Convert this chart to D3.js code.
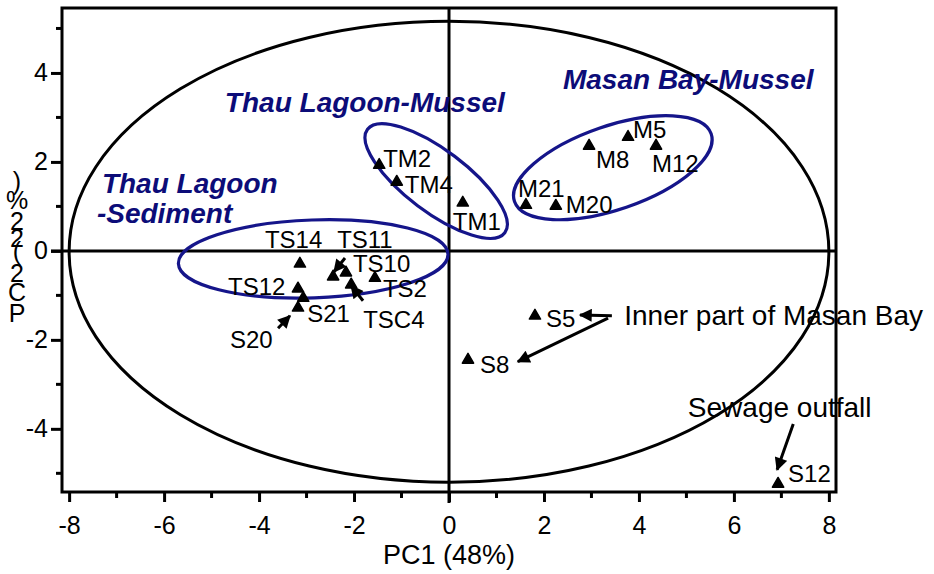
<!DOCTYPE html>
<html>
<head>
<meta charset="utf-8">
<script src="https://cdn.jsdelivr.net/npm/d3@7"></script>
<style>
  body { margin: 0; background: #fff; }
  svg { display: block; }
  text { font-family: "Liberation Sans", Arial, Helvetica, sans-serif; }
</style>
</head>
<body>
<svg id="chart" width="934" height="574"></svg>
<script>
// ---- PCA scores (PC1, PC2) per sample ----
const sampleNames = ["TM2", "TM4", "TM1", "M8", "M5", "M12", "M21", "M20",
                     "S5", "S8", "S12", "TS14", "TS12", "S21", "S20",
                     "TS11", "TS10", "TSC4", "TS2"];
const pc1Scores = [-1.47, -1.10, 0.29, 2.95, 3.77, 4.36, 1.62, 2.25,
                   1.81, 0.40, 6.93, -3.14, -3.18, -3.07, -3.18,
                   -2.44, -2.17, -2.06, -1.56];
const pc2Scores = [1.93, 1.55, 1.08, 2.36, 2.56, 2.36, 1.03, 1.01,
                   -1.46, -2.45, -5.24, -0.29, -0.85, -1.06, -1.28,
                   -0.58, -0.49, -0.76, -0.61];

const xTickValues = [-8, -6, -4, -2, 0, 2, 4, 6, 8];
const yTickValues = [-4, -2, 0, 2, 4];
const xMinorTicks = [-7, -5, -3, -1, 1, 3, 5, 7];
const yMinorTicks = [-5, -3, -1, 1, 3, 5];
const xTitle = "PC1 (48%)";
const yTitle = "PC2 (22%)";

// 95% confidence ellipse radii (PC1, PC2)
const confRadii = [8.0, 5.18];

// ---- layout ----
const W = 934, H = 574;
const frame = { left: 62, right: 836, top: 8, bottom: 492 };
const ink = "#000";
const navy = "#0c0c78";
const loopColor = "#15158a";

const x = d3.scaleLinear().domain([-8.15, 8.15]).range([frame.left, frame.right]);
const y = d3.scaleLinear().domain([-5.42, 5.46]).range([frame.bottom, frame.top]);
const kx = x(1) - x(0);

const svg = d3.select("#chart");

// label placement for each sample (pixel offset of text start / baseline)
const labelOffsets = {
  TM2: [4, 2], TM4: [8, 11], TM1: [-10, 27], M8: [7, 22], M5: [5, 1],
  M12: [-4, 26], M21: [-8, -8], M20: [10, 7], S5: [11, 11], S8: [12, 13],
  S12: [10, -2], TS14: [-35, -16], TS11: [4, -29], TS10: [7, -1],
  TS12: [-70, 6], TS2: [8, 19], S21: [4, 24], TSC4: [12, 43], S20: [-68, 40]
};

// group outlines: centre in score units, semi-axes in PC1 units, screen rotation
const groupLoops = [
  { cx: -2.86, cy: -0.18, a: 2.84, b: 0.82, rot: -2 },
  { cx: -0.27, cy: 1.57, a: 1.81, b: 0.65, rot: 37 },
  { cx: 3.45, cy: 1.87, a: 2.19, b: 0.88, rot: -19 }
];

// group titles
const groupTitles = [
  { lines: ["Thau Lagoon-Mussel"], x: -4.72, y: 3.12 },
  { lines: ["Masan Bay-Mussel"], x: 2.40, y: 3.64 },
  { lines: ["Thau Lagoon", "-Sediment"], x: -7.31, y: 1.30, dx: [0, -5] }
];

// annotation arrows [fromPC1, fromPC2, toPC1, toPC2]
const arrows = [
  [-2.19, -0.16, -2.42, -0.47],
  [-1.81, -1.12, -2.06, -0.79],
  [-3.60, -1.74, -3.35, -1.46],
  [3.43, -1.46, 2.76, -1.44],
  [3.35, -1.51, 1.45, -2.49],
  [7.25, -3.89, 6.91, -4.92]
];
const notes = [
  { text: "Inner part of Masan Bay", x: 3.69, y: -1.66 },
  { text: "Sewage outfall", x: 5.03, y: -3.73 }
];

// ---- arrow head ----
svg.append("defs").append("marker")
  .attr("id", "head")
  .attr("viewBox", "0 0 10 10")
  .attr("refX", 9).attr("refY", 5)
  .attr("markerUnits", "userSpaceOnUse")
  .attr("markerWidth", 15).attr("markerHeight", 13)
  .attr("orient", "auto")
  .append("path").attr("d", "M0,0 L10,5 L0,10 z").attr("fill", ink);

// ---- confidence ellipse ----
svg.append("ellipse")
  .attr("cx", x(0)).attr("cy", y(-0.02))
  .attr("rx", x(confRadii[0]) - x(0))
  .attr("ry", y(0) - y(confRadii[1]))
  .attr("fill", "none").attr("stroke", ink).attr("stroke-width", 3);

// ---- zero lines ----
svg.append("line")
  .attr("x1", frame.left - 11).attr("x2", frame.right)
  .attr("y1", y(0)).attr("y2", y(0))
  .attr("stroke", ink).attr("stroke-width", 3);
svg.append("line")
  .attr("x1", x(0)).attr("x2", x(0))
  .attr("y1", frame.top).attr("y2", frame.bottom + 11)
  .attr("stroke", ink).attr("stroke-width", 3);

// ---- group outlines ----
svg.append("g").selectAll("ellipse").data(groupLoops).join("ellipse")
  .attr("cx", 0).attr("cy", 0)
  .attr("rx", d => d.a * kx).attr("ry", d => d.b * kx)
  .attr("transform", d => `translate(${x(d.cx)},${y(d.cy)}) rotate(${d.rot})`)
  .attr("fill", "none").attr("stroke", loopColor).attr("stroke-width", 3.2);

// ---- axes ----
const xAxis = d3.axisBottom(x).tickValues(xTickValues).tickSize(10).tickPadding(6)
  .tickFormat(d3.format("d"));
const gx = svg.append("g").attr("transform", `translate(0,${frame.bottom})`).call(xAxis);
gx.select(".domain").remove();
gx.selectAll(".tick line").attr("stroke", ink).attr("stroke-width", 3);
gx.selectAll(".tick text").attr("font-size", 25).attr("fill", ink)
  .attr("dy", null).attr("y", 42);
gx.selectAll(".tick text").text(d => d < 0 ? "-" + Math.abs(d) : d);
svg.append("g").selectAll("line").data(xMinorTicks).join("line")
  .attr("x1", d => x(d)).attr("x2", d => x(d))
  .attr("y1", frame.bottom).attr("y2", frame.bottom + 6)
  .attr("stroke", ink).attr("stroke-width", 3);

const yAxis = d3.axisLeft(y).tickValues(yTickValues).tickSize(11).tickPadding(3);
const gy = svg.append("g").attr("transform", `translate(${frame.left},0)`).call(yAxis);
gy.select(".domain").remove();
gy.selectAll(".tick line").attr("stroke", ink).attr("stroke-width", 3);
gy.selectAll(".tick text").attr("font-size", 25).attr("fill", ink)
  .text(d => d < 0 ? "-" + Math.abs(d) : d);
svg.append("g").selectAll("line").data(yMinorTicks).join("line")
  .attr("x1", frame.left - 6).attr("x2", frame.left)
  .attr("y1", d => y(d)).attr("y2", d => y(d))
  .attr("stroke", ink).attr("stroke-width", 3);

// ---- frame ----
svg.append("rect")
  .attr("x", frame.left).attr("y", frame.top)
  .attr("width", frame.right - frame.left).attr("height", frame.bottom - frame.top)
  .attr("fill", "none").attr("stroke", ink).attr("stroke-width", 3);

// ---- axis titles ----
svg.append("text")
  .attr("x", x(0)).attr("y", 564)
  .attr("text-anchor", "middle").attr("font-size", 27).attr("fill", ink)
  .text(xTitle);

// vertical title: upright glyphs stacked from bottom to top
const yTitleG = svg.append("g");
const probe = svg.append("text").attr("font-size", 25).attr("visibility", "hidden");
let acc = 0;
const stackStep = 1.2, stackBottom = 323, stackX = 17;
Array.from(yTitle).forEach(ch => {
  probe.text(ch === " " ? "\u00a0" : ch);
  const w = probe.node().getComputedTextLength();
  if (ch !== " ") {
    yTitleG.append("text")
      .attr("x", stackX).attr("y", stackBottom - (acc + w / 2) * stackStep)
      .attr("text-anchor", "middle").attr("dominant-baseline", "central")
      .attr("font-size", 25).attr("fill", ink).text(ch);
  }
  acc += w;
});
probe.remove();

// ---- arrows ----
svg.append("g").selectAll("line").data(arrows).join("line")
  .attr("x1", d => x(d[0])).attr("y1", d => y(d[1]))
  .attr("x2", d => x(d[2])).attr("y2", d => y(d[3]))
  .attr("stroke", ink).attr("stroke-width", 3)
  .attr("marker-end", "url(#head)");

// ---- sample points ----
const samples = sampleNames.map((n, i) => ({ name: n, px: pc1Scores[i], py: pc2Scores[i] }));
svg.append("g").selectAll("path").data(samples).join("path")
  .attr("d", d3.symbol().type(d3.symbolTriangle).size(55))
  .attr("transform", d => `translate(${x(d.px)},${y(d.py)})`)
  .attr("fill", ink).attr("stroke", ink).attr("stroke-width", 1.5)
  .attr("stroke-linejoin", "round");

svg.append("g").selectAll("text").data(samples).join("text")
  .attr("x", d => x(d.px) + labelOffsets[d.name][0])
  .attr("y", d => y(d.py) + labelOffsets[d.name][1])
  .attr("font-size", 24).attr("fill", ink)
  .text(d => d.name);

// ---- annotation notes ----
svg.append("g").selectAll("text").data(notes).join("text")
  .attr("x", d => x(d.x)).attr("y", d => y(d.y))
  .attr("font-size", 28).attr("fill", ink)
  .text(d => d.text);

// ---- group titles ----
groupTitles.forEach(g => {
  g.lines.forEach((line, i) => {
    svg.append("text")
      .attr("x", x(g.x) + (g.dx ? g.dx[i] : 0))
      .attr("y", y(g.y) + i * 30)
      .attr("font-size", 28).attr("font-weight", "bold").attr("font-style", "italic")
      .attr("fill", navy)
      .text(line);
  });
});
</script>
</body>
</html>
